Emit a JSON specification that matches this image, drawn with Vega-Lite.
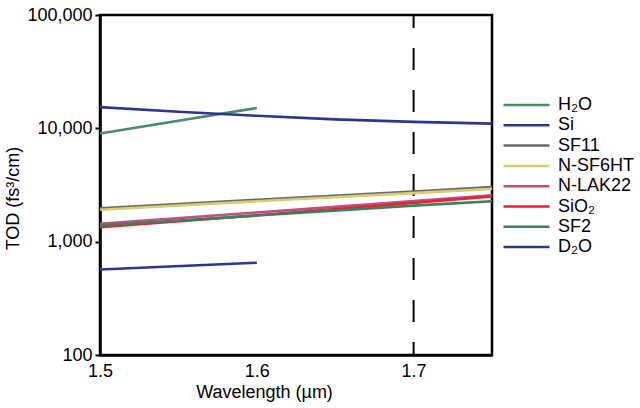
{
  "$schema": "https://vega.github.io/schema/vega-lite/v6.json",
  "width": 392,
  "height": 340,
  "autosize": {"type": "none"},
  "padding": {"left": 100, "top": 15, "right": 148, "bottom": 53},
  "config": {
    "font": "Liberation Sans",
    "view": {"stroke": "#000000", "strokeWidth": 2.5},
    "axis": {"grid": false, "labelColor": "#000000", "titleColor": "#000000", "labelFontSize": 18, "titleFontSize": 18, "titleFontWeight": "normal", "domainColor": "#000000", "domainWidth": 2.5, "tickColor": "#000000", "tickWidth": 2}
  },
  "datasets": {
    "curves": [
      {"material": "H₂O", "wl": 1.5, "tod": 9000},
      {"material": "H₂O", "wl": 1.6, "tod": 15100},
      {"material": "Si", "wl": 1.5, "tod": 15400},
      {"material": "Si", "wl": 1.55, "tod": 14000},
      {"material": "Si", "wl": 1.6, "tod": 12900},
      {"material": "Si", "wl": 1.65, "tod": 12000},
      {"material": "Si", "wl": 1.7, "tod": 11400},
      {"material": "Si", "wl": 1.75, "tod": 11000},
      {"material": "SF11", "wl": 1.5, "tod": 1965},
      {"material": "SF11", "wl": 1.6, "tod": 2340},
      {"material": "SF11", "wl": 1.7, "tod": 2770},
      {"material": "SF11", "wl": 1.75, "tod": 3030},
      {"material": "N-SF6HT", "wl": 1.5, "tod": 1910},
      {"material": "N-SF6HT", "wl": 1.6, "tod": 2270},
      {"material": "N-SF6HT", "wl": 1.7, "tod": 2680},
      {"material": "N-SF6HT", "wl": 1.75, "tod": 2920},
      {"material": "N-LAK22", "wl": 1.5, "tod": 1440},
      {"material": "N-LAK22", "wl": 1.6, "tod": 1810},
      {"material": "N-LAK22", "wl": 1.7, "tod": 2280},
      {"material": "N-LAK22", "wl": 1.75, "tod": 2560},
      {"material": "SiO₂", "wl": 1.5, "tod": 1340},
      {"material": "SiO₂", "wl": 1.6, "tod": 1710},
      {"material": "SiO₂", "wl": 1.7, "tod": 2200},
      {"material": "SiO₂", "wl": 1.75, "tod": 2500},
      {"material": "SF2", "wl": 1.5, "tod": 1390},
      {"material": "SF2", "wl": 1.6, "tod": 1700},
      {"material": "SF2", "wl": 1.7, "tod": 2080},
      {"material": "SF2", "wl": 1.75, "tod": 2270},
      {"material": "D₂O", "wl": 1.5, "tod": 568},
      {"material": "D₂O", "wl": 1.6, "tod": 652}
    ],
    "marker": [
      {"wl": 1.7, "top": 100000, "bottom": 100}
    ]
  },
  "layer": [
    {
      "data": {"name": "marker"},
      "mark": {"type": "rule", "color": "#000000", "strokeWidth": 2, "strokeDash": [22, 20], "strokeDashOffset": 9},
      "encoding": {
        "x": {"field": "wl", "type": "quantitative"},
        "y": {"field": "top", "type": "quantitative"},
        "y2": {"field": "bottom"}
      }
    },
    {
      "data": {"name": "curves"},
      "mark": {"type": "line", "strokeWidth": 2.6, "clip": true},
      "encoding": {
        "x": {
          "field": "wl", "type": "quantitative",
          "scale": {"domain": [1.5, 1.75], "nice": false, "zero": false},
          "axis": {"title": "Wavelength (µm)", "values": [1.5, 1.6, 1.7], "format": ".1f", "ticks": false, "labelFlush": false, "labelPadding": 7, "titleX": 164, "titleY": 37, "titleBaseline": "middle"}
        },
        "y": {
          "field": "tod", "type": "quantitative",
          "scale": {"type": "log", "domain": [100, 100000], "nice": false},
          "axis": {"title": "TOD (fs³/cm)", "values": [100, 1000, 10000, 100000], "format": ",", "tickSize": 5, "labelPadding": 3, "labelFlush": false, "titleX": -87, "titleY": 183, "titleBaseline": "middle"}
        },
        "color": {
          "field": "material", "type": "nominal",
          "scale": {
            "domain": ["H₂O", "Si", "SF11", "N-SF6HT", "N-LAK22", "SiO₂", "SF2", "D₂O"],
            "range": ["#4b8a6c", "#2c3592", "#6b6b6d", "#d9cc72", "#c24d86", "#e3262c", "#3f7d5d", "#2c3592"]
          },
          "legend": {
            "title": null, "orient": "none", "legendX": 402, "legendY": 81,
            "symbolType": "stroke", "symbolSize": 2116, "symbolStrokeWidth": 2.5,
            "labelFontSize": 18, "labelColor": "#000000", "labelOffset": 7,
            "clipHeight": 18, "rowPadding": 2.3
          }
        }
      }
    }
  ]
}
